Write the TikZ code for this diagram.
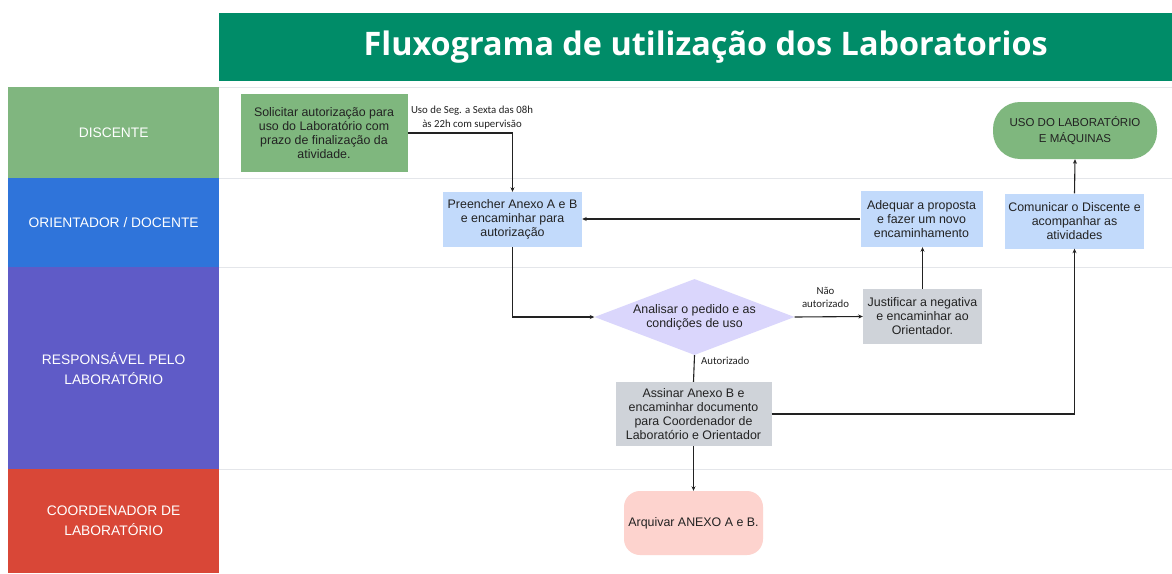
\documentclass[tikz,border=0pt]{standalone}
\usepackage{fontspec}
\setmainfont{Liberation Sans}
\newfontfamily\titlefont{Open Sans}
\newfontfamily\smallfont{Carlito}
\usetikzlibrary{shapes.geometric,arrows.meta}
\definecolor{titlegreen}{HTML}{008C68}
\definecolor{lanegreen}{HTML}{80B67F}
\definecolor{laneblue}{HTML}{2F74DA}
\definecolor{lanepurple}{HTML}{5F5BC7}
\definecolor{lanered}{HTML}{D94737}
\definecolor{boxgreen}{HTML}{7FB77E}
\definecolor{boxblue}{HTML}{C2DAFB}
\definecolor{boxgray}{HTML}{CFD3D9}
\definecolor{boxlav}{HTML}{DAD6FC}
\definecolor{boxpink}{HTML}{FDD3CE}
\definecolor{sepgray}{HTML}{E4E6EA}
\definecolor{ink}{HTML}{222222}
\tikzset{
  lanehead/.style={draw=none, inner sep=0pt, anchor=north west, text=white, align=center,
    font=\fontsize{13.8}{20}\selectfont},
  stepbox/.style={draw=none, inner sep=2pt, align=center, text=ink,
    font=\fontsize{12.4}{14}\selectfont},
  conn/.style={-{Stealth[length=4.5pt,width=4pt]}, line width=1.1pt, ink},
  plainconn/.style={line width=1.1pt, ink},
  note/.style={inner sep=0pt, align=center, text=ink, font=\smallfont\fontsize{10.8}{13.3}\selectfont},
  sepline/.style={line width=1pt, sepgray}
}
\begin{document}
\begin{tikzpicture}[x=1pt,y=-1pt]
\useasboundingbox (0,0) rectangle (1172,573);
\fill[white] (0,0) rectangle (1172,573);
% title
\node[fill=titlegreen, minimum width=953pt, minimum height=68pt, inner sep=0pt, anchor=north west,
  text=white, font=\titlefont\bfseries\fontsize{32.4}{38}\selectfont] (title) at (219,13)
  {\hspace*{20pt}Fluxograma de utilização dos Laboratorios};
% lane separators
\draw[sepline] (219,87) -- (1172,87);
\draw[sepline] (219,178) -- (1172,178);
\draw[sepline] (219,267) -- (1172,267);
\draw[sepline] (219,469) -- (1172,469);
% lane headers
\node[lanehead, fill=lanegreen, minimum width=211pt, minimum height=91pt] (l1) at (8,87) {DISCENTE};
\node[lanehead, fill=laneblue, minimum width=211pt, minimum height=89pt] (l2) at (8,178) {ORIENTADOR / DOCENTE};
\node[lanehead, fill=lanepurple, minimum width=211pt, minimum height=202pt] (l3) at (8,267) {RESPONSÁVEL PELO\\LABORATÓRIO};
\node[lanehead, fill=lanered, minimum width=211pt, minimum height=104pt] (l4) at (8,469) {COORDENADOR DE\\LABORATÓRIO};
% nodes
\node[stepbox, fill=boxgreen, minimum width=167pt, minimum height=78pt] (sol) at (324,133)
  {Solicitar autorização para\\uso do Laboratório com\\prazo de finalização da\\atividade.};
\node[stepbox, fill=boxblue, minimum width=139pt, minimum height=55pt] (pre) at (512.5,219.5)
  {Preencher Anexo A e B\\e encaminhar para\\autorização};
\node[stepbox, fill=boxblue, minimum width=122pt, minimum height=56pt] (adq) at (921.5,219)
  {Adequar a proposta\\e fazer um novo\\encaminhamento};
\node[stepbox, fill=boxblue, minimum width=139pt, minimum height=55pt] (com) at (1074.5,221)
  {Comunicar o Discente e\\acompanhar as\\atividades};
\node[stepbox, fill=boxgreen, rounded corners=27pt, minimum width=164pt, minimum height=57pt,
  font=\fontsize{11.5}{16}\selectfont] (uso) at (1075,130.5)
  {USO DO LABORATÓRIO\\E MÁQUINAS};
\node[stepbox, shape=diamond, fill=boxlav, inner sep=0pt, aspect=2.74, minimum width=200pt, minimum height=76pt] (ana) at (694.5,317)
  {Analisar o pedido e as\\condições de uso};
\node[stepbox, fill=boxgray, minimum width=119pt, minimum height=55pt] (jus) at (922.5,316.5)
  {Justificar a negativa\\e encaminhar ao\\Orientador.};
\node[stepbox, fill=boxgray, minimum width=156pt, minimum height=64pt] (ass) at (693.5,414)
  {Assinar Anexo B e\\encaminhar documento\\para Coordenador de\\Laboratório e Orientador};
\node[stepbox, fill=boxpink, rounded corners=16pt, minimum width=139pt, minimum height=64pt] (arq) at (693.5,523)
  {Arquivar ANEXO A e B.};
% connectors
\draw[conn] (sol.east) -| (pre.north);
\node[note] (n1) at (472,117.5) {Uso de Seg. a Sexta das 08h\\às 22h com supervisão};
\draw[conn] (pre.south) |- (ana.west);
\draw[conn] (ana.east) -- (jus.west);
\node[note] (n2) at (825.5,297.5) {Não\\autorizado};
\draw[conn] (jus.north) -- (jus.north |- adq.south);
\draw[conn] (adq.west) -- (pre.east |- adq.west);
\draw[plainconn] (ana.south) -- (ass.north);
\node[note, anchor=west] (n3) at (701,361) {Autorizado};
\draw[conn] (ass.east) -| (com.south);
\draw[conn] (com.north) -- (uso.south);
\draw[conn] (ass.south) -- (arq.north);
\end{tikzpicture}
\end{document}
